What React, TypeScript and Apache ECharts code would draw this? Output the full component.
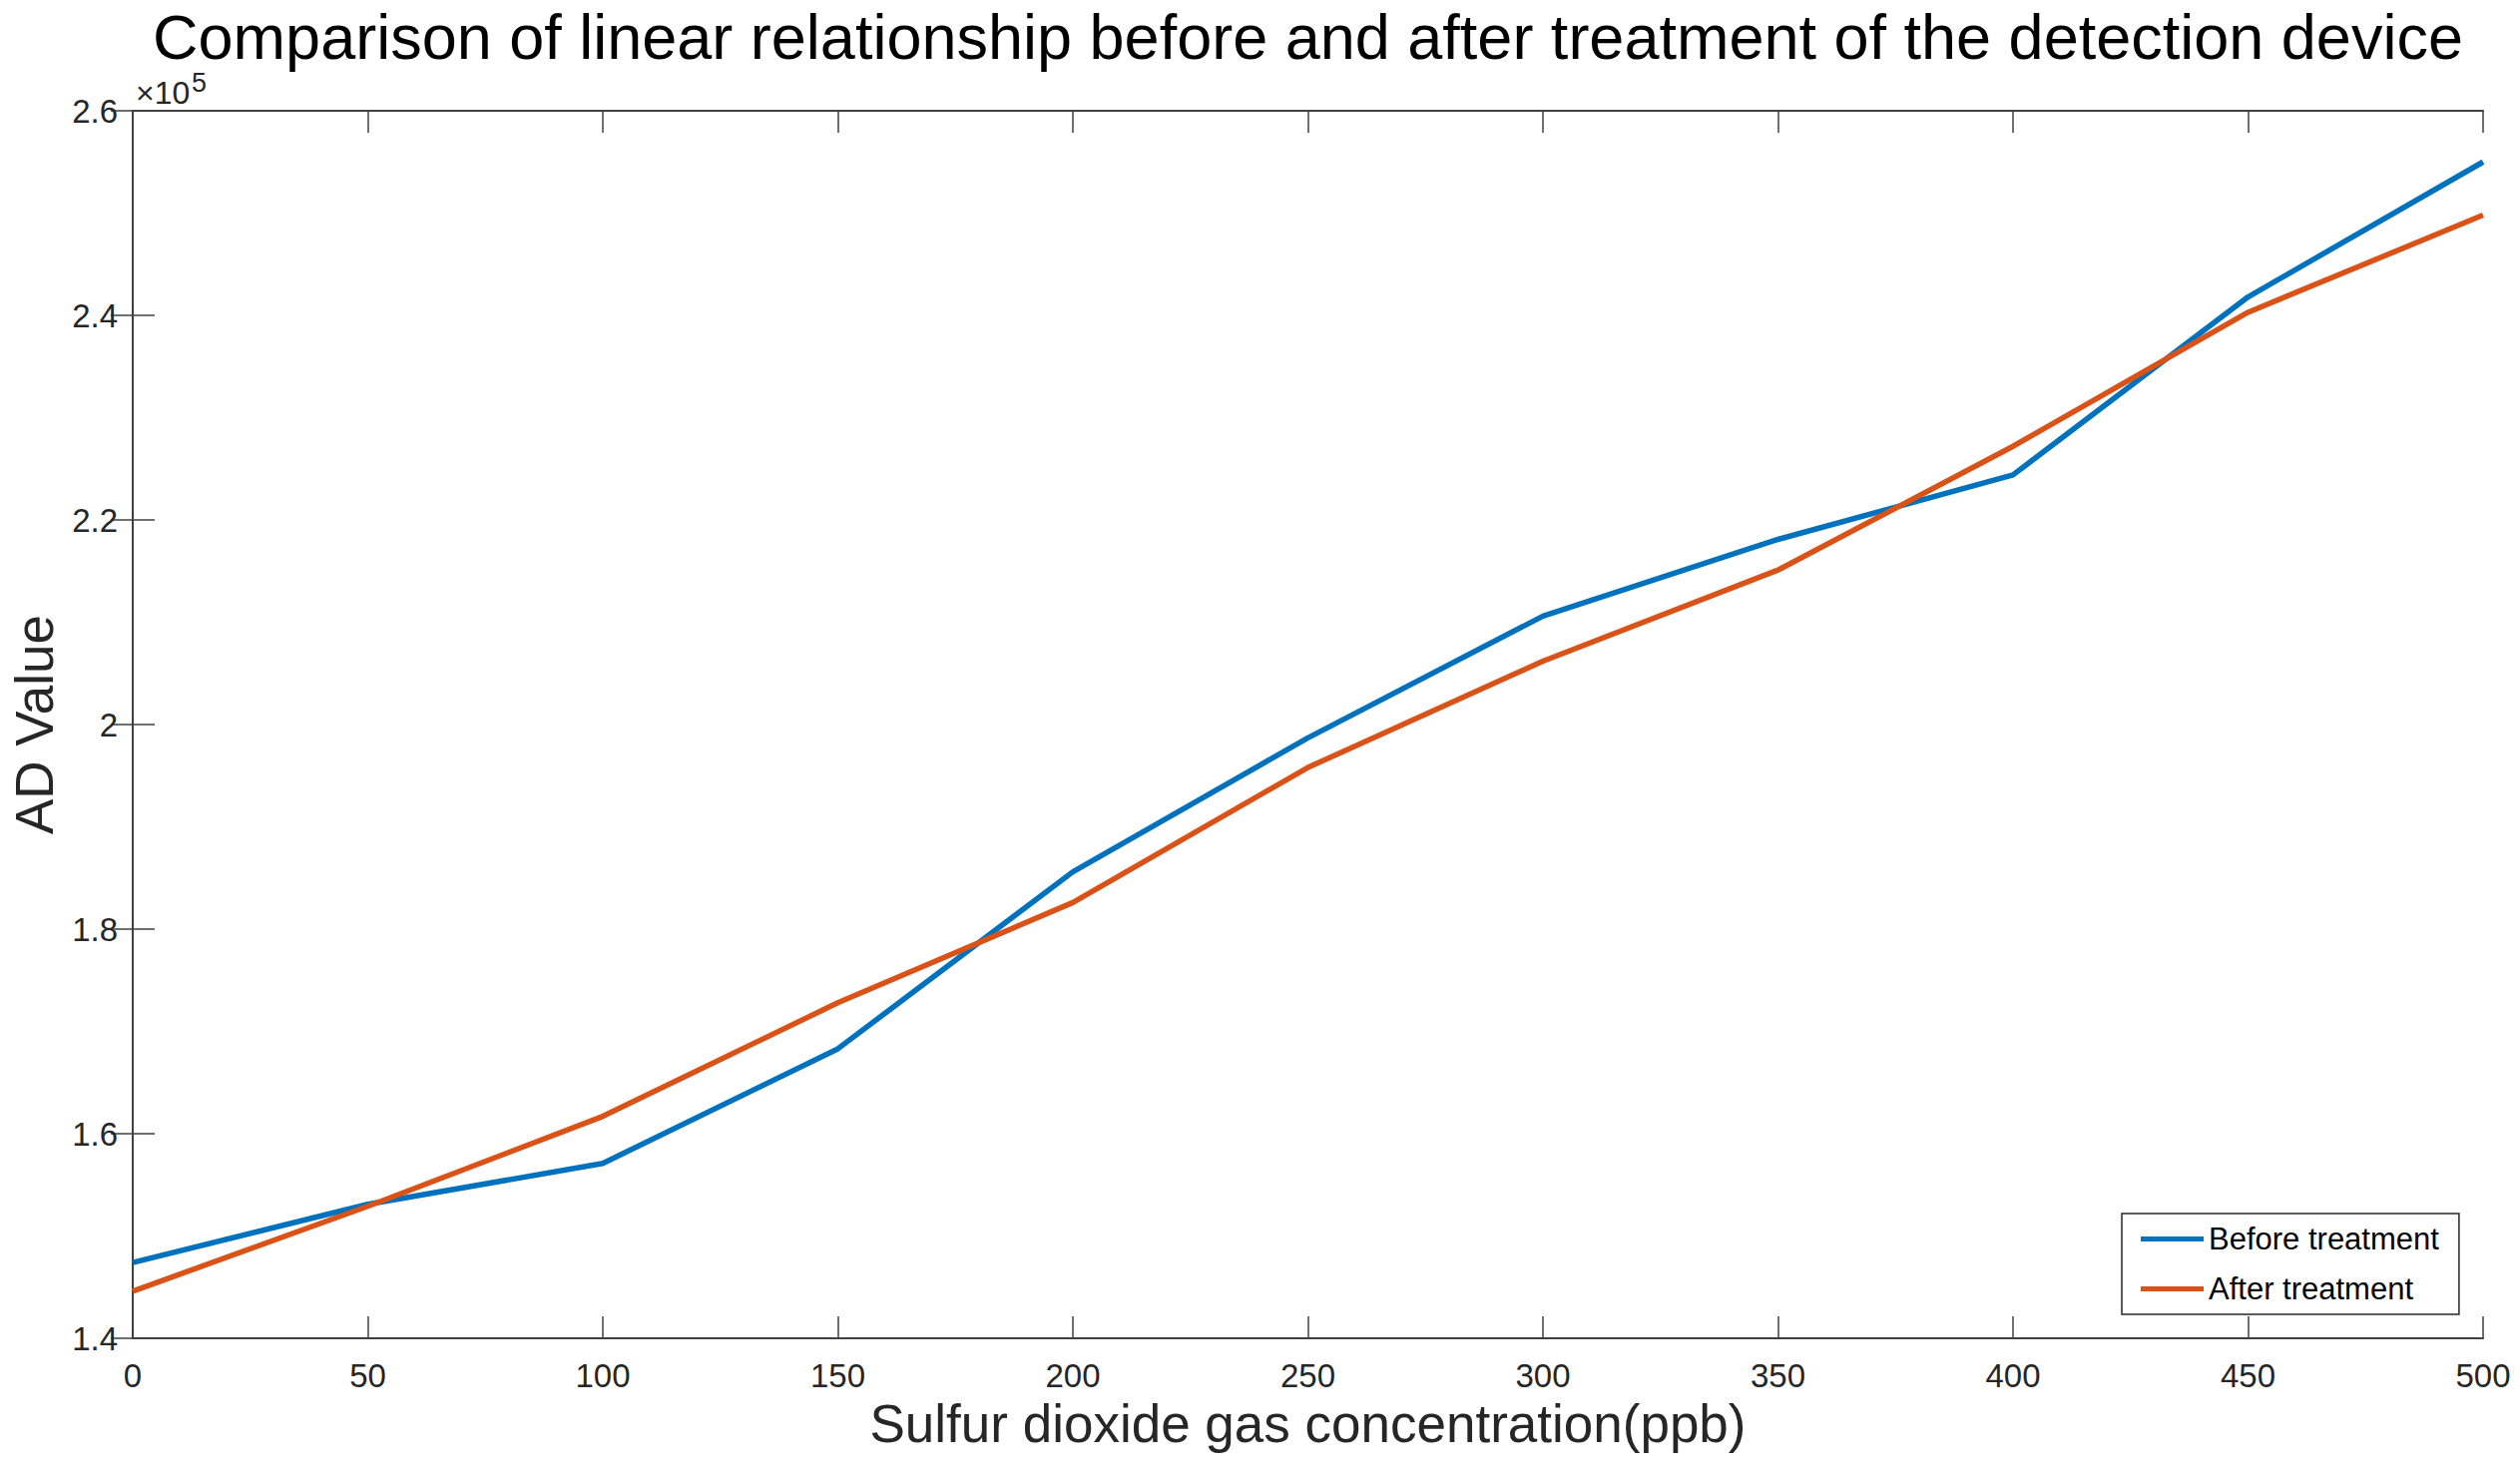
import React, { useEffect, useRef } from "react";
import * as echarts from "echarts";

const titleText =
  "Comparison of linear relationship before and after treatment of the detection device";
const xAxisName = "Sulfur dioxide gas concentration(ppb)";
const yAxisName = "AD Value";
const seriesNames = ["Before treatment", "After treatment"];

const concentrations = [0, 50, 100, 150, 200, 250, 300, 350, 400, 450, 500];
const beforeValues = [147400, 153100, 157100, 168300, 185600, 198700, 210600, 218100, 224400, 241800, 255000];
const afterValues = [144600, 152900, 161700, 172800, 182600, 195800, 206200, 215100, 227200, 240300, 249800];

const xMin = 0;
const xMax = 500;
const xInterval = 50;
const yMin = 140000;
const yMax = 260000;
const yInterval = 20000;
const yScaleLabel = "×10";
const yScaleExp = "5";

const FONT = "'Liberation Sans', Arial, Helvetica, sans-serif";
const AXIS_COLOR = "#404040";
const TEXT_COLOR = "#262626";

export default function App() {
  const ref = useRef<HTMLDivElement>(null);

  useEffect(() => {
    if (!ref.current) return;
    const chart = echarts.init(ref.current, undefined, { renderer: "svg" });

    const gridLeft = 133;
    const gridRight = 37;
    const gridTop = 111;
    const gridBottom = 140;
    const plotCenterX = gridLeft + (2525 - gridLeft - gridRight) / 2;

    const axisLine = { show: true, lineStyle: { color: AXIS_COLOR, width: 2 } };
    const axisTick = { show: true, inside: true, length: 22, lineStyle: { color: AXIS_COLOR, width: 1.5 } };

    const toPairs = (vals: number[]) => concentrations.map((x, i) => [x, vals[i]]);

    chart.setOption({
      animation: false,
      backgroundColor: "#ffffff",
      textStyle: { fontFamily: FONT },
      grid: { left: gridLeft, right: gridRight, top: gridTop, bottom: gridBottom, containLabel: false },
      graphic: [
        {
          type: "text",
          x: plotCenterX,
          y: 37,
          style: {
            text: titleText,
            fontFamily: FONT,
            fontSize: 63,
            fill: "#000000",
            textAlign: "center",
            textVerticalAlign: "middle",
          },
        },
        {
          type: "text",
          x: 136,
          y: 93,
          style: {
            text: yScaleLabel,
            fontFamily: FONT,
            fontSize: 32,
            fill: TEXT_COLOR,
            textAlign: "left",
            textVerticalAlign: "middle",
          },
        },
        {
          type: "text",
          x: 192,
          y: 83,
          style: {
            text: yScaleExp,
            fontFamily: FONT,
            fontSize: 27,
            fill: TEXT_COLOR,
            textAlign: "left",
            textVerticalAlign: "middle",
          },
        },
      ],
      legend: {
        orient: "vertical",
        left: 2126,
        top: 1216,
        data: seriesNames,
        icon: "rect",
        itemWidth: 63,
        itemHeight: 5,
        itemGap: 19,
        padding: [10, 20, 10, 19],
        backgroundColor: "#ffffff",
        borderColor: "#262626",
        borderWidth: 1.5,
        borderRadius: 0,
        textStyle: { fontFamily: FONT, fontSize: 31, color: "#000000", lineHeight: 31 },
      },
      xAxis: [
        {
          type: "value",
          position: "bottom",
          min: xMin,
          max: xMax,
          interval: xInterval,
          name: xAxisName,
          nameLocation: "middle",
          nameGap: 56,
          nameTextStyle: { fontFamily: FONT, fontSize: 53, color: TEXT_COLOR },
          axisLine,
          axisTick,
          splitLine: { show: false },
          axisLabel: { show: true, margin: 21, fontFamily: FONT, fontSize: 33, color: TEXT_COLOR },
        },
        {
          type: "value",
          position: "top",
          min: xMin,
          max: xMax,
          interval: xInterval,
          axisLine,
          axisTick,
          splitLine: { show: false },
          axisLabel: { show: false },
        },
      ],
      yAxis: [
        {
          type: "value",
          position: "left",
          min: yMin,
          max: yMax,
          interval: yInterval,
          name: yAxisName,
          nameLocation: "middle",
          nameGap: 60,
          nameTextStyle: { fontFamily: FONT, fontSize: 53, color: TEXT_COLOR },
          axisLine,
          axisTick,
          splitLine: { show: false },
          axisLabel: {
            show: true,
            margin: 15,
            fontFamily: FONT,
            fontSize: 33,
            color: TEXT_COLOR,
            formatter: (v: number) => String(parseFloat((v / 1e5).toFixed(1))),
          },
        },
        {
          type: "value",
          position: "right",
          min: yMin,
          max: yMax,
          interval: yInterval,
          axisLine,
          axisTick,
          splitLine: { show: false },
          axisLabel: { show: false },
        },
      ],
      series: [
        {
          name: seriesNames[0],
          type: "line",
          xAxisIndex: 0,
          yAxisIndex: 0,
          data: toPairs(beforeValues),
          showSymbol: false,
          symbol: "none",
          lineStyle: { color: "#0072BD", width: 5.5 },
          itemStyle: { color: "#0072BD" },
          z: 3,
        },
        {
          name: seriesNames[1],
          type: "line",
          xAxisIndex: 0,
          yAxisIndex: 0,
          data: toPairs(afterValues),
          showSymbol: false,
          symbol: "none",
          lineStyle: { color: "#D95319", width: 5.5 },
          itemStyle: { color: "#D95319" },
          z: 4,
        },
      ],
    });

    return () => chart.dispose();
  }, []);

  return (
    <div
      ref={ref}
      style={{ position: "absolute", left: 0, top: 0, width: 2525, height: 1481, background: "#fff" }}
    />
  );
}
